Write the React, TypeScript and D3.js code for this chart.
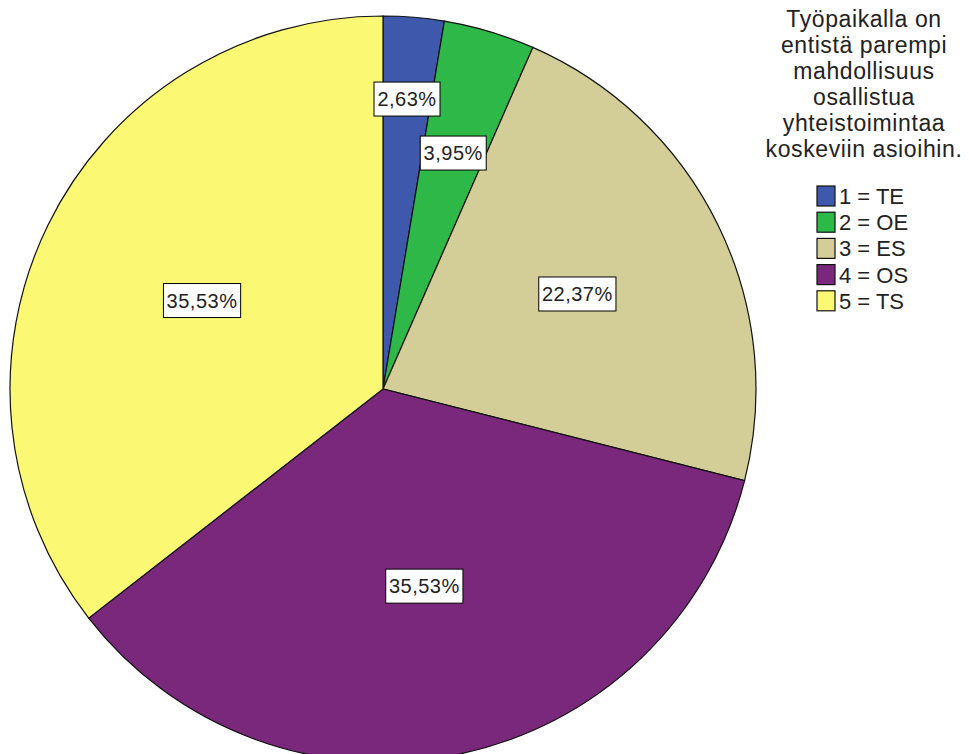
import React from "react";
import * as d3 from "d3";

const categories = ["1 = TE", "2 = OE", "3 = ES", "4 = OS", "5 = TS"];
const values = [2.63, 3.95, 22.37, 35.53, 35.53];
const valueLabels = ["2,63%", "3,95%", "22,37%", "35,53%", "35,53%"];
const colors = ["#3E58AC", "#2EB848", "#D3CE97", "#7A287C", "#FBF873"];
const titleLines = [
  "Työpaikalla on",
  "entistä parempi",
  "mahdollisuus",
  "osallistua",
  "yhteistoimintaa",
  "koskeviin asioihin.",
];
const labelRadius = [0.78, 0.66, 0.58, 0.54, 0.54];

const W = 969;
const H = 754;
const cx = 383;
const cy = 389;
const R = 373;

function LabelBox({ x, y, text }: { x: number; y: number; text: string }) {
  const fs = 20;
  const w = text.length * 11.2 + 10;
  const h = 34;
  return (
    <g transform={`translate(${x},${y})`}>
      <rect x={-w / 2} y={-h / 2} width={w} height={h} fill="#fff" stroke="#000" strokeWidth={1} />
      <text
        textAnchor="middle"
        dy="0.36em"
        fontFamily="Arial, 'Liberation Sans', sans-serif"
        fontSize={fs}
        fill="#222"
        letterSpacing={0.5}
      >
        {text}
      </text>
    </g>
  );
}

export default function App() {
  const pie = d3
    .pie<number>()
    .sort(null)
    .value((d) => d);
  const arcs = pie(values);
  const arc = d3.arc<d3.PieArcDatum<number>>().innerRadius(0).outerRadius(R);

  return (
    <svg
      width={W}
      height={H}
      style={{ position: "absolute", left: 0, top: 0, background: "#fff" }}
    >
      <rect width={W} height={H} fill="#fff" />
      <g transform={`translate(${cx},${cy})`}>
        {arcs.map((a, i) => (
          <path key={i} d={arc(a) || ""} fill={colors[i]} stroke="#111" strokeWidth={1.2} />
        ))}
      </g>
      {arcs.map((a, i) => {
        const mid = (a.startAngle + a.endAngle) / 2;
        const r = R * labelRadius[i];
        const x = cx + r * Math.sin(mid);
        const y = cy - r * Math.cos(mid);
        return <LabelBox key={i} x={x} y={y} text={valueLabels[i]} />;
      })}
      <g fontFamily="Arial, 'Liberation Sans', sans-serif" fill="#222">
        {titleLines.map((t, i) => (
          <text key={i} x={864} y={27 + i * 26} textAnchor="middle" fontSize={23} letterSpacing={0.6}>
            {t}
          </text>
        ))}
        {categories.map((c, i) => {
          const y = 196 + i * 26.2;
          return (
            <g key={c}>
              <rect x={817} y={y - 10} width={18} height={20} fill={colors[i]} stroke="#111" strokeWidth={1.2} />
              <text x={839} y={y} dy="0.36em" fontSize={22}>
                {c}
              </text>
            </g>
          );
        })}
      </g>
    </svg>
  );
}
